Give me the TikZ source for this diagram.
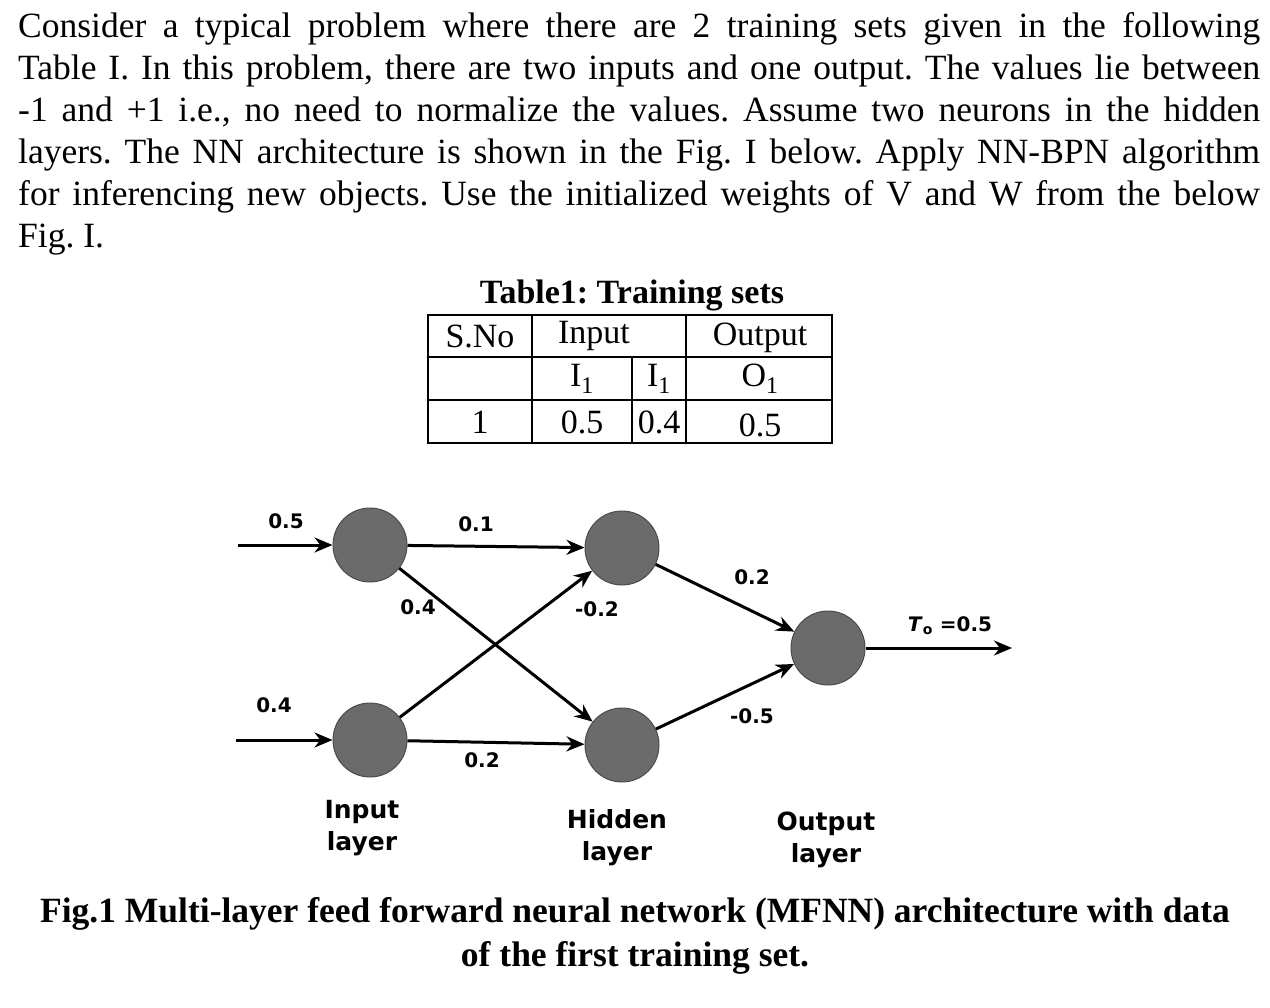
\documentclass[tikz,border=0pt]{standalone}
\usepackage{fontspec}
\setmainfont{Liberation Serif}
\newfontfamily\nnfont{DejaVu Sans}
\usetikzlibrary{arrows.meta}
\begin{document}
\frenchspacing
\begin{tikzpicture}[x=1pt,y=-1pt,
  neuron/.style={circle,fill=black!58,draw=black!70,line width=1pt,minimum size=74pt,inner sep=0pt},
  conn/.style={line width=3pt,-{Stealth[length=18pt,width=15pt]}},
  wt/.style={font=\nnfont\fontsize{20}{22}\selectfont\bfseries},
  lay/.style={font=\nnfont\fontsize{25}{32}\selectfont\bfseries,align=center},
  tab/.style={font=\fontsize{34}{36}\selectfont}]
\useasboundingbox (0,0) rectangle (1270,1008);
\node[anchor=north west,inner sep=0pt,text width=1242pt,align=justify,font=\fontsize{35.5}{42}\selectfont] (para) at (18,12)
{Consider a typical problem where there are 2 training sets given in the following\linebreak
Table I. In this problem, there are two inputs and one output. The values lie between\linebreak
-1 and +1 i.e., no need to normalize the values. Assume two neurons in the hidden\linebreak
layers. The NN architecture is shown in the Fig. I below. Apply NN-BPN algorithm\linebreak
for inferencing new objects. Use the initialized weights of V and W from the below\linebreak
Fig. I.};
% table
\node[font=\fontsize{34}{36}\selectfont\bfseries] (tt) at (632,295) {Table1: Training sets};
\draw[line width=1.5pt] (428,315) rectangle (832,443);
\draw[line width=1.5pt] (428,357) -- (832,357) (428,400) -- (832,400)
  (532,315) -- (532,443) (686,315) -- (686,443) (632,357) -- (632,443);
\node[tab] (c1) at (480,336) {S.No};
\node[tab] (c2) at (594,336) {Input};
\node[tab] (c3) at (760,338) {Output};
\node[tab] (c4) at (582,379) {I\textsubscript{1}};
\node[tab] (c5) at (659,379) {I\textsubscript{1}};
\node[tab] (c6) at (760,379) {O\textsubscript{1}};
\node[tab] (c7) at (480,422) {1};
\node[tab] (c8) at (582,422) {0.5};
\node[tab] (c9) at (659,422) {0.4};
\node[tab] (c10) at (760,425) {0.5};
% network
\node[neuron] (i1) at (370,545) {};
\node[neuron] (i2) at (370,740) {};
\node[neuron] (h1) at (622,548) {};
\node[neuron] (h2) at (622,745) {};
\node[neuron] (o) at (828,648) {};
\coordinate (s1) at (238,545);
\coordinate (s2) at (236,740);
\coordinate (e) at (1012,648);
\draw[conn] (s1) -- (i1);
\draw[conn] (s2) -- (i2);
\draw[conn] (i1) -- (h1);
\draw[conn] (i1) -- (h2);
\draw[conn] (i2) -- (h1);
\draw[conn] (i2) -- (h2);
\draw[conn] (h1) -- (o);
\draw[conn] (h2) -- (o);
\draw[conn] (o) -- (e);
\node[wt] (l1) at (286,521) {0.5};
\node[wt] (l2) at (274,705) {0.4};
\node[wt] (l3) at (476,524) {0.1};
\node[wt] (l4) at (418,607) {0.4};
\node[wt] (l5) at (597,609) {-0.2};
\node[wt] (l6) at (482,760) {0.2};
\node[wt] (l7) at (752,577) {0.2};
\node[wt] (l8) at (752,716) {-0.5};
\node[wt] (l9) at (950,626) {\textit{T}\textsubscript{o} =0.5};
\node[lay] (L1) at (362,828) {Input\\layer};
\node[lay] (L2) at (617,838) {Hidden\\layer};
\node[lay] (L3) at (826,840) {Output\\layer};
\node[font=\fontsize{35.5}{44}\selectfont\bfseries,align=center] (cap) at (635,936)
{Fig.1 Multi-layer feed forward neural network (MFNN) architecture with data\\of the first training set.};
\end{tikzpicture}
\end{document}
